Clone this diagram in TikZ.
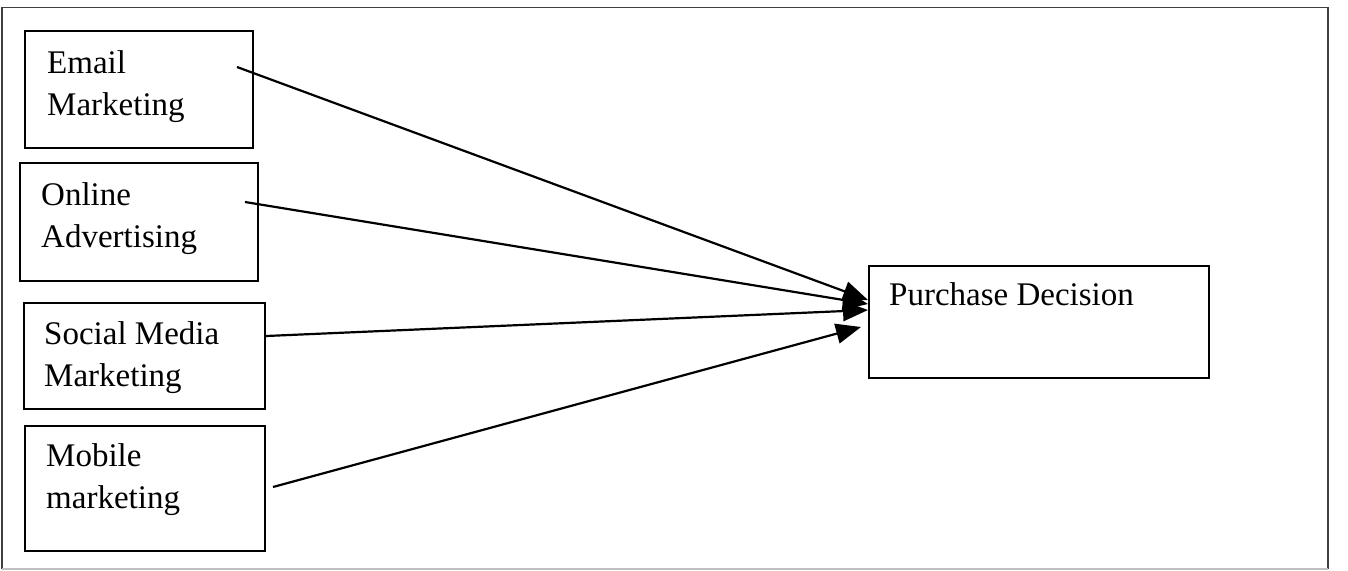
\documentclass[tikz,border=0pt]{standalone}
\usepackage{fontspec}
\setmainfont{Liberation Serif}
\usetikzlibrary{arrows.meta,calc}
\newcommand{\twoline}[2]{\vtop{\baselineskip=42.5pt\hbox{#1}\hbox{#2}}}
\tikzset{
  box/.style={draw=black, line width=2.2pt, rectangle, inner sep=0pt, anchor=north west},
  txt/.style={inner sep=0pt, anchor=base west, font=\fontsize{33pt}{42.5pt}\selectfont},
  arr/.style={line width=2.2pt, -{Triangle[length=25pt,width=20pt]}},
  frame/.style={line width=1.6pt}
}
\begin{document}
\begin{tikzpicture}[x=1pt,y=-1pt]
\useasboundingbox (0,0) rectangle (1348,570);
% outer frame
\draw[frame, draw=black!75] (2,569) -- (2,7.5) -- (1328,7.5) -- (1328,569);
\draw[frame, draw=black!25] (2,569) -- (1328,569);
% boxes
\node[box, minimum width=228, minimum height=117] (email) at (24,30) {};
\node[box, minimum width=238, minimum height=118] (online) at (18.5,162) {};
\node[box, minimum width=241, minimum height=106] (social) at (23,302) {};
\node[box, minimum width=240, minimum height=125] (mobile) at (24,425) {};
\node[box, minimum width=340, minimum height=112] (pd) at (868,265) {};
% texts
\node[txt] (emailt) at (47,73) {\twoline{Email}{Marketing}};
\node[txt] (onlinet) at (41,205) {\twoline{Online}{Advertising}};
\node[txt] (socialt) at (44,344) {\twoline{Social Media}{Marketing}};
\node[txt] (mobilet) at (46,466) {\twoline{Mobile}{marketing}};
\node[txt] (pdt) at (889,305) {Purchase Decision};
% connector ends
\coordinate (es) at (237,67);
\coordinate (os) at (245,202);
\coordinate (ss) at (social.east |- 0,336);
\coordinate (ms) at (273,487);
\coordinate (et) at ($(pd.north west)+(0,35)$);
\coordinate (ot) at ($(pd.north west)+(0,39)$);
\coordinate (st) at ($(pd.north west)+(0,45)$);
\coordinate (mt) at ($(pd.north west)+(-7,62)$);
\draw[arr] (es) -- (et);
\draw[arr] (os) -- (ot);
\draw[arr] (ss) -- (st);
\draw[arr] (ms) -- (mt);
\end{tikzpicture}
\end{document}
